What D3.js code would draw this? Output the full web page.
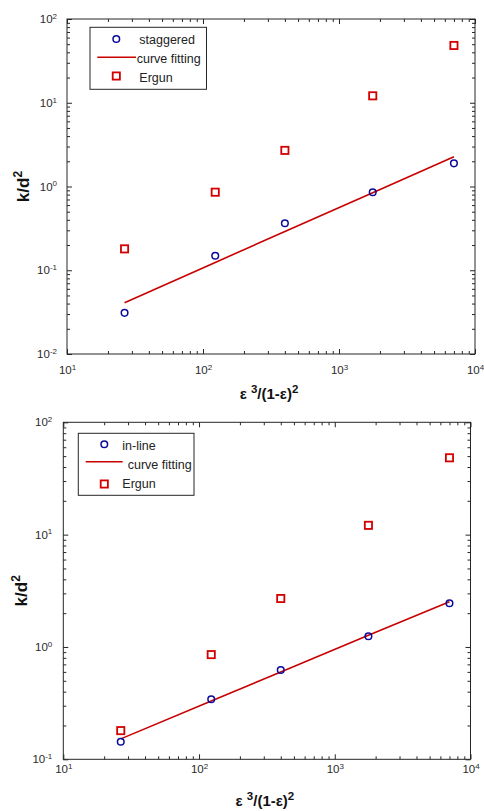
<!DOCTYPE html>
<html>
<head>
<meta charset="utf-8">
<script src="https://cdn.jsdelivr.net/npm/d3@7"></script>
<style>
  html, body { margin: 0; padding: 0; background: #fff; }
  svg { display: block; font-family: "Liberation Sans", Arial, sans-serif; }
</style>
</head>
<body>
<svg id="chart" width="484" height="811"></svg>
<script>
// ---- data ----
const xValues = [26.5, 123, 400, 1770, 7000];
const staggeredValues = [0.031, 0.149, 0.364, 0.853, 1.89];
const staggeredFit = [0.041, 0.124, 0.29, 0.84, 2.27];
const inlineValues = [0.1435, 0.342, 0.624, 1.245, 2.45];
const inlineFit = [0.152, 0.33, 0.598, 1.27, 2.53];
const ergunValues = [0.18, 0.855, 2.7, 12.1, 48.3];
const xTickExponents = [1, 2, 3, 4];
const yTickExponentsTop = [-2, -1, 0, 1, 2];
const yTickExponentsBottom = [-1, 0, 1, 2];
const legendLabelsTop = ["staggered", "curve fitting", "Ergun"];
const legendLabelsBottom = ["in-line", "curve fitting", "Ergun"];

// ---- layout / style ----
const BLUE = "#0a0a9a";
const RED = "#d40000";
const FIT = "#c80000";
const AXIS = "#262626";

const charts = [
  {
    values: staggeredValues, fit: staggeredFit, ergun: ergunValues,
    yExp: yTickExponentsTop, labels: legendLabelsTop,
    plot: { left: 67, top: 19, right: 475, bottom: 354 },
    legend: { x: 90, y: 27.3, w: 116.5, h: 62, sym: 26.3, t1: 49.3, t2: 46.7, t3: 49.3, l1: 7.3, l2: 46, rows: [11.7, 30, 48.7], base: [17, 36, 55] },
    xLabelY: 399, yLabelX: 29, xTickPad: 12, yTickPad: 10
  },
  {
    values: inlineValues, fit: inlineFit, ergun: ergunValues,
    yExp: yTickExponentsBottom, labels: legendLabelsBottom,
    plot: { left: 63.3, top: 422.3, right: 470.5, bottom: 759.3 },
    legend: { x: 78.3, y: 433.3, w: 115.7, h: 62, sym: 26, t1: 44, t2: 49.4, t3: 44, l1: 7.4, l2: 44.4, rows: [11, 28.4, 50.7], base: [16.7, 36, 55] },
    xLabelY: 806, yLabelX: 27, xTickPad: 6, yTickPad: 11
  }
];

const svg = d3.select("#chart");
svg.append("rect").attr("width", 484).attr("height", 811).attr("fill", "#fff");

function minorTicks(e0, e1) {
  const out = [];
  for (let e = e0; e < e1; e++) for (let m = 2; m <= 9; m++) out.push(m * Math.pow(10, e));
  return out;
}

function supLabel(sel) {
  sel.each(function(d) {
    const exp = Math.round(Math.log10(d));
    const t = d3.select(this);
    t.text("10");
    t.append("tspan").attr("dy", "-0.55em").attr("font-size", 8).text(exp);
  });
}

charts.forEach(c => {
  const p = c.plot;
  const x = d3.scaleLog().domain([10, 10000]).range([p.left, p.right]);
  const y = d3.scaleLog().domain([Math.pow(10, c.yExp[0]), Math.pow(10, c.yExp[c.yExp.length - 1])]).range([p.bottom, p.top]);
  const xMaj = xTickExponents.map(e => Math.pow(10, e));
  const yMaj = c.yExp.map(e => Math.pow(10, e));
  const xMin = minorTicks(xTickExponents[0], xTickExponents[xTickExponents.length - 1]);
  const yMin = minorTicks(c.yExp[0], c.yExp[c.yExp.length - 1]);

  const g = svg.append("g");

  // frame
  g.append("rect").attr("x", p.left).attr("y", p.top)
    .attr("width", p.right - p.left).attr("height", p.bottom - p.top)
    .attr("fill", "none").attr("stroke", AXIS).attr("stroke-width", 1);

  function styleAxis(ag) {
    ag.select(".domain").remove();
    ag.selectAll("line").attr("stroke", AXIS);
    ag.selectAll("text").attr("fill", "#2a2a2a").attr("font-size", 11.5)
      .attr("font-family", "'Liberation Sans', Arial, sans-serif");
  }

  // bottom
  const bMaj = g.append("g").attr("transform", `translate(0,${p.bottom})`)
    .call(d3.axisBottom(x).tickValues(xMaj).tickSizeInner(-5).tickSizeOuter(0).tickPadding(c.xTickPad));
  styleAxis(bMaj); bMaj.selectAll("text").call(supLabel);
  const bMin = g.append("g").attr("transform", `translate(0,${p.bottom})`)
    .call(d3.axisBottom(x).tickValues(xMin).tickSizeInner(-3).tickSizeOuter(0).tickFormat(""));
  styleAxis(bMin);
  // top
  [[xMaj, -5], [xMin, -3]].forEach(([v, s]) => {
    const a = g.append("g").attr("transform", `translate(0,${p.top})`)
      .call(d3.axisTop(x).tickValues(v).tickSizeInner(s).tickSizeOuter(0).tickFormat(""));
    styleAxis(a);
  });
  // left
  const lMaj = g.append("g").attr("transform", `translate(${p.left},0)`)
    .call(d3.axisLeft(y).tickValues(yMaj).tickSizeInner(-5).tickSizeOuter(0).tickPadding(c.yTickPad));
  styleAxis(lMaj); lMaj.selectAll("text").call(supLabel);
  const lMin = g.append("g").attr("transform", `translate(${p.left},0)`)
    .call(d3.axisLeft(y).tickValues(yMin).tickSizeInner(-3).tickSizeOuter(0).tickFormat(""));
  styleAxis(lMin);
  // right
  [[yMaj, -5], [yMin, -3]].forEach(([v, s]) => {
    const a = g.append("g").attr("transform", `translate(${p.right},0)`)
      .call(d3.axisRight(y).tickValues(v).tickSizeInner(s).tickSizeOuter(0).tickFormat(""));
    styleAxis(a);
  });

  // fit line
  const line = d3.line().x((d, i) => x(xValues[i])).y(d => y(d));
  g.append("path").datum(c.fit).attr("d", line)
    .attr("fill", "none").attr("stroke", FIT).attr("stroke-width", 1.6);

  // Ergun squares
  g.selectAll(".sq").data(c.ergun).enter().append("rect")
    .attr("x", (d, i) => x(xValues[i]) - 3.6).attr("y", d => y(d) - 3.6)
    .attr("width", 7.2).attr("height", 7.2)
    .attr("fill", "none").attr("stroke", RED).attr("stroke-width", 1.8);

  // circles
  g.selectAll(".ci").data(c.values).enter().append("circle")
    .attr("cx", (d, i) => x(xValues[i])).attr("cy", d => y(d)).attr("r", 3.3)
    .attr("fill", "none").attr("stroke", BLUE).attr("stroke-width", 1.5);

  // legend
  const L = c.legend;
  const lg = g.append("g").attr("transform", `translate(${L.x},${L.y})`);
  lg.append("rect").attr("width", L.w).attr("height", L.h)
    .attr("fill", "#fff").attr("stroke", AXIS).attr("stroke-width", 1);
  lg.append("circle").attr("cx", L.sym).attr("cy", L.rows[0]).attr("r", 3.3)
    .attr("fill", "none").attr("stroke", BLUE).attr("stroke-width", 1.5);
  lg.append("line").attr("x1", L.l1).attr("x2", L.l2).attr("y1", L.rows[1]).attr("y2", L.rows[1])
    .attr("stroke", FIT).attr("stroke-width", 1.6);
  lg.append("rect").attr("x", L.sym - 3.6).attr("y", L.rows[2] - 3.6).attr("width", 7.2).attr("height", 7.2)
    .attr("fill", "none").attr("stroke", RED).attr("stroke-width", 1.8);
  const tx = [L.t1, L.t2, L.t3];
  c.labels.forEach((s, i) => {
    lg.append("text").attr("x", tx[i]).attr("y", L.base[i])
      .attr("font-size", 12.5).attr("fill", "#222").text(s);
  });

  // x label
  const xl = g.append("text").attr("x", (p.left + p.right) / 2 - 2).attr("y", c.xLabelY)
    .attr("text-anchor", "middle").attr("font-weight", "bold").attr("font-size", 15).attr("fill", "#111");
  xl.append("tspan").text("ε ");
  xl.append("tspan").attr("dy", -6).attr("font-size", 11.5).text("3");
  xl.append("tspan").attr("dy", 6).text("/(1-ε)");
  xl.append("tspan").attr("dy", -6).attr("font-size", 11.5).text("2");

  // y label
  const yl = g.append("text")
    .attr("transform", `translate(${c.yLabelX},${(p.top + p.bottom) / 2}) rotate(-90)`)
    .attr("text-anchor", "middle").attr("font-weight", "bold").attr("font-size", 17).attr("fill", "#111");
  yl.append("tspan").text("k/d");
  yl.append("tspan").attr("dy", -7).attr("font-size", 12).text("2");
});
</script>
</body>
</html>
